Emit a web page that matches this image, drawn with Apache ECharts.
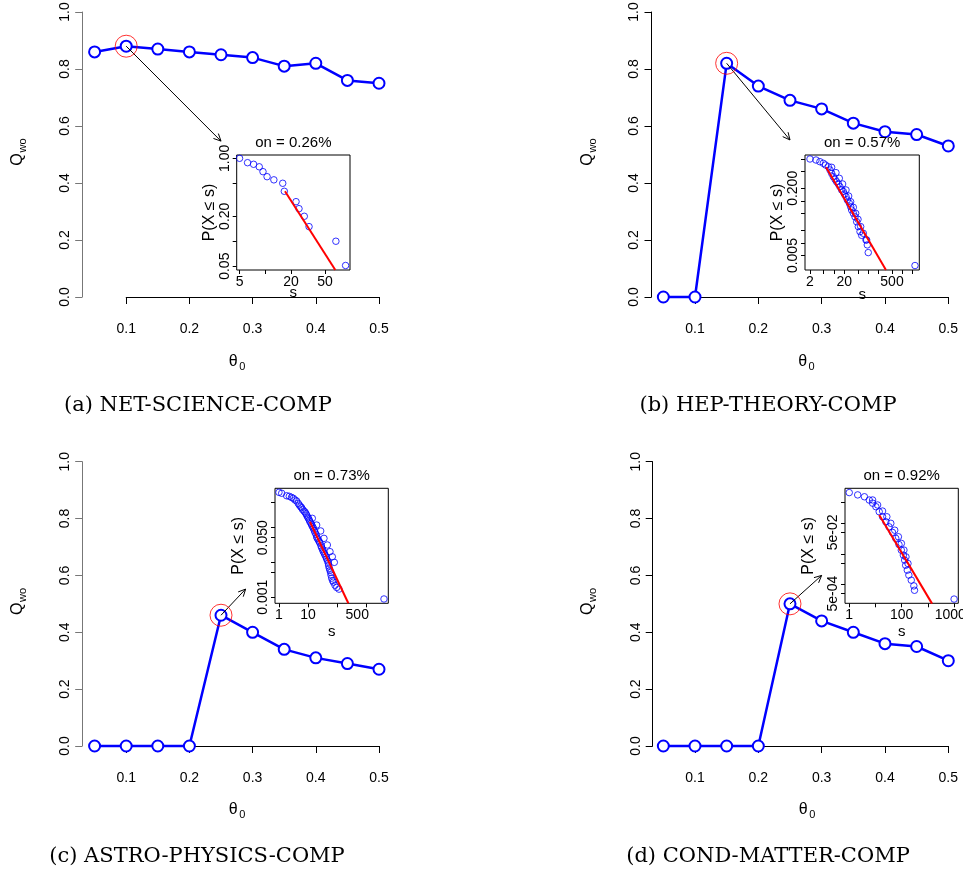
<!DOCTYPE html>
<html>
<head>
<meta charset="utf-8">
<script src="https://cdn.jsdelivr.net/npm/echarts@6.0.0/dist/echarts.min.js"></script>
<style>
  html, body { margin: 0; padding: 0; background: #fff; }
  #chart { width: 963px; height: 872px; }
</style>
</head>
<body>
<div id="chart"></div>
<script>
// threshold values, same for all four panels
var theta = [0.05, 0.1, 0.15, 0.2, 0.25, 0.3, 0.35, 0.4, 0.45, 0.5];
var qNetScience = [0.86, 0.88, 0.87, 0.86, 0.85, 0.84, 0.81, 0.82, 0.76, 0.75];
var qHepTheory = [0, 0, 0.82, 0.74, 0.69, 0.66, 0.61, 0.58, 0.57, 0.53];
var qAstroPhysics = [0, 0, 0, 0, 0.46, 0.40, 0.34, 0.31, 0.29, 0.27];
var qCondMatter = [0, 0, 0, 0, 0.50, 0.44, 0.40, 0.36, 0.35, 0.30];
var peakIndex = [1, 2, 4, 4];

var captions = ['(a) NET-SCIENCE-COMP', '(b) HEP-THEORY-COMP', '(c) ASTRO-PHYSICS-COMP', '(d) COND-MATTER-COMP'];
var onLabels = ['on = 0.26%', 'on = 0.57%', 'on = 0.73%', 'on = 0.92%'];

// insets: P(X <= s) against s, log-log
var sNet = [5, 6.2, 7.3, 8.5, 9.4, 10.5, 12.6, 16, 16.7, 22.9, 24.8, 28.6, 32.5, 67, 87];
var pNet = [1.0, 0.885, 0.847, 0.79, 0.69, 0.60, 0.55, 0.50, 0.40, 0.30, 0.247, 0.20, 0.15, 0.10, 0.051];
var fitNetS = [17, 66];
var fitNetP = [0.40, 0.045];

var sHep = [2, 3, 3.9, 4.9, 5.7, 6.9, 7.7, 8.6, 9.6, 10.8, 12, 13.5, 15, 16.9, 18.8, 20.2, 22.6, 24.7, 28.3, 30.9, 33, 37, 41.4, 46.3, 51.8, 58, 64.9, 90.8, 94.9, 101, 2350,
  8.6, 11.5, 14.4, 18.0, 22.6, 27.0, 30.9, 37.0, 43.3, 50.7, 60.7, 72.5, 86.8];
var pHep = [1, 0.946, 0.863, 0.79, 0.72, 0.655, 0.547, 0.456, 0.38, 0.328, 0.288, 0.254, 0.219, 0.183, 0.169, 0.147, 0.127, 0.106, 0.088, 0.073, 0.061, 0.051, 0.042, 0.032, 0.0245, 0.0186, 0.0152, 0.0118, 0.009, 0.0059, 0.0029,
  0.634, 0.473, 0.347, 0.254, 0.183, 0.131, 0.096, 0.0706, 0.0508, 0.0366, 0.0245, 0.0170, 0.0118];
var fitHepS = [5.9, 333];
var fitHepP = [0.634, 0.00227];

var sAstro = [1, 1.84, 2.7, 3.56, 4.6, 5.6, 6.5, 7.9, 9, 10.3, 11.7, 13.4, 15.3, 17.4, 19.9, 22.7, 25.9, 29.6, 33.8, 38.6, 44, 50.2, 54.4, 60.5, 65.5, 74.8, 117, 4170,
  1.24, 2.27, 3.12, 4.07, 5.02, 6.05, 7.28, 8.53, 9.75, 11.1, 12.7, 14.5, 16.5, 18.9, 21, 24.6, 28.1, 32.1, 36.6, 41.8, 47.6, 51.6, 57.4, 62.1, 71, 85.3, 97.5,
  14.1, 19.9, 27.4, 35.6, 46.5, 57.4, 69, 80.9];
var pAstro = [0.99, 0.79, 0.71, 0.60, 0.48, 0.385, 0.32, 0.27, 0.22, 0.18, 0.143, 0.115, 0.093, 0.071, 0.053, 0.043, 0.035, 0.026, 0.020, 0.016, 0.0123, 0.0093, 0.0067, 0.0051, 0.0035, 0.0027, 0.0017, 0.00089,
  0.93, 0.762, 0.668, 0.56, 0.43, 0.36, 0.289, 0.243, 0.195, 0.160, 0.129, 0.103, 0.081, 0.0625, 0.048, 0.0385, 0.0295, 0.0227, 0.0179, 0.0141, 0.0108, 0.0079, 0.0058, 0.0043, 0.0030, 0.0022, 0.0019,
  0.179, 0.115, 0.078, 0.048, 0.031, 0.020, 0.0143, 0.0099];
var fitAstroS = [11.7, 246];
var fitAstroP = [0.143, 0.00067];

var sCond = [1, 2.1, 3.8, 5.8, 7.8, 10.4, 13.9, 18.7, 24.9, 33, 44.6, 59.4, 79, 97, 116, 130, 142, 164, 188, 232, 291, 309, 10000,
  7.8, 12.1, 18.7, 27.2, 38.5, 54.4, 75, 97.5, 122, 146, 174];
var pCond = [1.0, 0.84, 0.73, 0.57, 0.45, 0.345, 0.237, 0.162, 0.111, 0.076, 0.05, 0.032, 0.020, 0.0131, 0.009, 0.0062, 0.0042, 0.0029, 0.002, 0.00137, 0.00089, 0.00064, 0.00033,
  0.573, 0.393, 0.249, 0.162, 0.099, 0.059, 0.0359, 0.0218, 0.0132, 0.0079, 0.0048];
var fitCondS = [13.9, 1440];
var fitCondP = [0.185, 0.000234];

// inset ticks and the ticks that carry a label
var xTicksNet = [5, 10, 20, 50], xLabelsNet = [5, 20, 50];
var yTicksNet = [0.05, 0.1, 0.2, 0.5, 1], yLabelsNet = [0.05, 0.2, 1];
var xTicksHep = [2, 5, 10, 20, 50, 100, 200, 500, 1000, 2000], xLabelsHep = [2, 20, 500];
var yTicksHep = [0.005, 0.01, 0.02, 0.05, 0.1, 0.2, 0.5, 1], yLabelsHep = [0.005, 0.2];
var xTicksAstro = [1, 10, 100, 1000], xLabelsAstro = [1, 10, 500];
var yTicksAstro = [0.001, 0.005, 0.01, 0.05, 0.1, 0.5], yLabelsAstro = [0.001, 0.05];
var xTicksCond = [1, 10, 100, 1000, 10000], xLabelsCond = [1, 100, 10000];
var yTicksCond = [0.0005, 0.001, 0.005, 0.01, 0.05, 0.1, 0.5], yLabelsCond = [0.0005, 0.05];

var panels = [
  { q: qNetScience, s: sNet, p: pNet, fs: fitNetS, fp: fitNetP,
    xt: xTicksNet, xl: xLabelsNet, yt: yTicksNet, yl: yLabelsNet, yfmt: function (v) { return v.toFixed(2); },
    main: { left: 126.2, top: 12, width: 252.8, height: 285 }, yOff: 44, xOff: 11, yAxisColor: '#777',
    arrowEnd: [0.25, 0.547],
    inset: { left: 236.7, top: 155, width: 113.3, height: 115 }, xr: [4.63, 98], yr: [0.045, 1.096],
    ylabX: 210, sY: 293, qX: 18, thetaY: 362, capX: 198, capY: 406 },
  { q: qHepTheory, s: sHep, p: pHep, fs: fitHepS, fp: fitHepP,
    xt: xTicksHep, xl: xLabelsHep, yt: yTicksHep, yl: yLabelsHep, yfmt: function (v) { return v.toFixed(3); },
    main: { left: 695, top: 12, width: 253.3, height: 285 }, yOff: 43.5, xOff: 11, yAxisColor: '#000',
    arrowEnd: [0.25, 0.551],
    inset: { left: 805, top: 155, width: 114.3, height: 115 }, xr: [1.43, 3140], yr: [0.00227, 1.245],
    ylabX: 778, sY: 295, qX: 588, thetaY: 362, capX: 768, capY: 406 },
  { q: qAstroPhysics, s: sAstro, p: pAstro, fs: fitAstroS, fp: fitAstroP,
    xt: xTicksAstro, xl: xLabelsAstro, yt: yTicksAstro, yl: yLabelsAstro, yfmt: function (v) { return v.toFixed(3); },
    main: { left: 126.2, top: 461.7, width: 252.8, height: 284.3 }, yOff: 44, xOff: 11.3, yAxisColor: '#777',
    arrowEnd: [0.289, 0.552],
    inset: { left: 275, top: 488.3, width: 113.3, height: 115 }, xr: [0.73, 5870], yr: [0.00067, 1.29],
    ylabX: 238.5, sY: 632, qX: 18, thetaY: 810, capX: 197, capY: 857 },
  { q: qCondMatter, s: sCond, p: pCond, fs: fitCondS, fp: fitCondP,
    xt: xTicksCond, xl: xLabelsCond, yt: yTicksCond, yl: yLabelsCond,
    yfmt: function (v) { var e = Math.floor(Math.log10(v) + 1e-9); var m = Math.round(v / Math.pow(10, e)); return m + 'e-' + (e > -10 ? '0' : '') + (-e); },
    main: { left: 695, top: 461.7, width: 253.3, height: 284.3 }, yOff: 42.3, xOff: 11, yAxisColor: '#000',
    arrowEnd: [0.30, 0.60],
    inset: { left: 845, top: 488.3, width: 113.3, height: 115 }, xr: [0.69, 14450], yr: [0.00024, 1.38],
    ylabX: 808.5, sY: 632, qX: 588, thetaY: 810, capX: 768, capY: 857 }
];

var SANS = 'Liberation Sans, Arial, Helvetica, sans-serif';
var SERIF = 'DejaVu Serif, serif';

function zip(a, b) {
  return a.map(function (v, i) { return [v, b[i]]; });
}

// thin arrow with an open head, from (x0,y0) to (x1,y1) in data space
function renderArrow(params, api) {
  var p0 = api.coord([api.value(0), api.value(1)]);
  var p1 = api.coord([api.value(2), api.value(3)]);
  var a = Math.atan2(p1[1] - p0[1], p1[0] - p0[0]);
  var L = 8, phi = Math.PI / 7;
  var h1 = [p1[0] - L * Math.cos(a - phi), p1[1] - L * Math.sin(a - phi)];
  var h2 = [p1[0] - L * Math.cos(a + phi), p1[1] - L * Math.sin(a + phi)];
  return { type: 'group', children: [
    { type: 'line', shape: { x1: p0[0], y1: p0[1], x2: p1[0], y2: p1[1] }, style: { stroke: '#000', lineWidth: 1 } },
    { type: 'polyline', shape: { points: [h1, p1, h2] }, style: { stroke: '#000', fill: null, lineWidth: 1 } }
  ] };
}

var grids = [], xAxes = [], yAxes = [], series = [], graphics = [];
var hiddenAxis = { show: false, splitLine: { show: false } };

panels.forEach(function (pn, i) {
  var ga = 3 * i, gd = 3 * i + 1, gi = 3 * i + 2;
  var m = pn.main;
  // axis grid: spans exactly the ticked range (0.1..0.5, 0..1)
  grids.push({ left: m.left, top: m.top, width: m.width, height: m.height, outerBoundsMode: 'none' });
  // data grid: spans 0.05..0.5 so that every point is inside
  grids.push({ left: m.left - m.width / 8, top: m.top, width: m.width * 9 / 8, height: m.height, outerBoundsMode: 'none' });
  grids.push({ left: pn.inset.left, top: pn.inset.top, width: pn.inset.width, height: pn.inset.height,
    outerBoundsMode: 'none', show: true, borderColor: '#000', borderWidth: 1, backgroundColor: '#fff', z: 5 });

  xAxes.push({ gridIndex: ga, type: 'value', min: 0.1, max: 0.5, interval: 0.1, offset: pn.xOff,
    axisLine: { lineStyle: { color: '#000', width: 1 } },
    axisTick: { length: 7, lineStyle: { color: '#000' } },
    axisLabel: { fontSize: 14, color: '#000', fontFamily: SANS, margin: 14 },
    splitLine: { show: false } });
  yAxes.push({ gridIndex: ga, type: 'value', min: 0, max: 1, interval: 0.2, offset: pn.yOff,
    axisLine: { show: true, lineStyle: { color: pn.yAxisColor, width: 1 } },
    axisTick: { show: true, length: 7, lineStyle: { color: pn.yAxisColor } },
    axisLabel: { fontSize: 14, color: '#000', fontFamily: SANS, margin: 10, rotate: 90,
      formatter: function (v) { return v.toFixed(1); } },
    splitLine: { show: false } });

  xAxes.push(Object.assign({ gridIndex: gd, type: 'value', min: 0.05, max: 0.5 }, hiddenAxis));
  yAxes.push(Object.assign({ gridIndex: gd, type: 'value', min: 0, max: 1 }, hiddenAxis));

  xAxes.push({ gridIndex: gi, type: 'log', min: pn.xr[0], max: pn.xr[1],
    axisLine: { show: false },
    axisTick: { show: true, length: 4, customValues: pn.xt, lineStyle: { color: '#000' } },
    axisLabel: { customValues: pn.xl, fontSize: 14, color: '#000', fontFamily: SANS, margin: 5,
      formatter: function (v) { return String(Math.round(v)); } },
    splitLine: { show: false }, minorTick: { show: false } });
  yAxes.push({ gridIndex: gi, type: 'log', min: pn.yr[0], max: pn.yr[1],
    axisLine: { show: false },
    axisTick: { show: true, length: 4, customValues: pn.yt, lineStyle: { color: '#000' } },
    axisLabel: { customValues: pn.yl, fontSize: 14, color: '#000', fontFamily: SANS, margin: 5, rotate: 90,
      formatter: pn.yfmt },
    splitLine: { show: false }, minorTick: { show: false } });

  var k = peakIndex[i];
  series.push({ type: 'line', xAxisIndex: gd, yAxisIndex: gd, data: zip(theta, pn.q), clip: false,
    symbol: 'emptyCircle', symbolSize: 11, z: 3,
    lineStyle: { color: '#0000ff', width: 2.5 },
    itemStyle: { color: '#0000ff', borderColor: '#0000ff', borderWidth: 2.5 } });
  series.push({ type: 'scatter', xAxisIndex: gd, yAxisIndex: gd, data: [[theta[k], pn.q[k]]], clip: false,
    symbol: 'circle', symbolSize: 22, z: 4,
    itemStyle: { color: 'rgba(0,0,0,0)', borderColor: '#ff0000', borderWidth: 1 } });
  series.push({ type: 'custom', xAxisIndex: gd, yAxisIndex: gd, z: 4, silent: true,
    data: [[theta[k], pn.q[k], pn.arrowEnd[0], pn.arrowEnd[1]]],
    encode: { x: [0, 2], y: [1, 3] }, renderItem: renderArrow });

  series.push({ type: 'scatter', xAxisIndex: gi, yAxisIndex: gi, data: zip(pn.s, pn.p), z: 6,
    symbol: 'circle', symbolSize: 6.5,
    itemStyle: { color: 'rgba(0,0,0,0)', borderColor: '#0000ff', borderWidth: 1 } });
  series.push({ type: 'line', xAxisIndex: gi, yAxisIndex: gi, data: zip(pn.fs, pn.fp), z: 7,
    symbol: 'none', lineStyle: { color: '#ff0000', width: 2 } });

  var ins = pn.inset;
  var xlabCenter = (m.left - pn.yOff + m.left + m.width + 0.018 / 0.4 * m.width) / 2;
  var ylabCenter = m.top + m.height / 2;

  graphics.push({ type: 'text', x: ins.left + ins.width / 2, y: ins.top - 12, z: 10,
    style: { text: onLabels[i], font: '15px ' + SANS, fill: '#000', align: 'center', verticalAlign: 'middle' } });
  graphics.push({ type: 'text', x: pn.ylabX, y: ins.top + ins.height / 2, rotation: Math.PI / 2, z: 10,
    style: { text: 'P(X \u2264 s)', font: '16px ' + SANS, fill: '#000', align: 'center', verticalAlign: 'middle' } });
  graphics.push({ type: 'text', x: ins.left + ins.width / 2, y: pn.sY, z: 10,
    style: { text: 's', font: '15px ' + SANS, fill: '#000', align: 'center', verticalAlign: 'middle' } });

  graphics.push({ type: 'group', x: xlabCenter, y: pn.thetaY, children: [
    { type: 'text', x: -3, y: 0, style: { text: '\u03b8', font: '16px ' + SANS, fill: '#000', align: 'center', verticalAlign: 'middle' } },
    { type: 'text', x: 6, y: 5, style: { text: '0', font: '11px ' + SANS, fill: '#000', align: 'center', verticalAlign: 'middle' } }
  ] });
  graphics.push({ type: 'group', x: pn.qX, y: ylabCenter, rotation: Math.PI / 2, children: [
    { type: 'text', x: -5, y: 0, style: { text: 'Q', font: '16px ' + SANS, fill: '#000', align: 'center', verticalAlign: 'middle' } },
    { type: 'text', x: 9, y: 5, style: { text: 'wo', font: '11px ' + SANS, fill: '#000', align: 'center', verticalAlign: 'middle' } }
  ] });
  graphics.push({ type: 'text', x: pn.capX, y: pn.capY,
    style: { text: captions[i], font: '21px ' + SERIF, fill: '#000', align: 'center', verticalAlign: 'middle' } });
});

var chart = echarts.init(document.getElementById('chart'), null, { renderer: 'canvas' });
chart.setOption({
  animation: false,
  backgroundColor: '#fff',
  grid: grids,
  xAxis: xAxes,
  yAxis: yAxes,
  series: series,
  graphic: { elements: graphics }
});
</script>
</body>
</html>
